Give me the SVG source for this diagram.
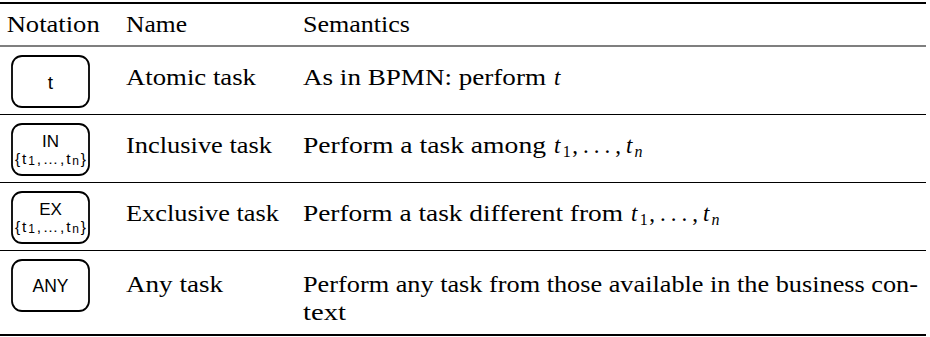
<svg xmlns="http://www.w3.org/2000/svg" width="930" height="337" viewBox="0 0 930 337">
<style>
.tx{font-family:'Liberation Serif',serif;font-size:23px;fill:#000}
.it{font-style:italic}
.sub{font-size:16px}
.box{fill:#fff;stroke:#000;stroke-width:1.8}
.bt{font-family:'Liberation Sans',sans-serif;fill:#000;text-anchor:middle}
.thick{stroke:#000;stroke-width:1.9}
.thin{stroke:#000;stroke-width:1.1}
</style>
<rect width="930" height="337" fill="#fff"/>
<g id="rules">
<line class="thick" x1="0" y1="3" x2="926" y2="3"/>
<line class="thin" x1="0" y1="46" x2="926" y2="46"/>
<line class="thin" x1="0" y1="114.5" x2="926" y2="114.5"/>
<line class="thin" x1="0" y1="182.5" x2="926" y2="182.5"/>
<line class="thin" x1="0" y1="250.5" x2="926" y2="250.5"/>
<line class="thick" x1="0" y1="335" x2="926" y2="335"/>
</g>
<g id="header">
<text class="tx" x="6.7" y="32" textLength="93" lengthAdjust="spacingAndGlyphs">Notation</text>
<text class="tx" x="126" y="32" textLength="61" lengthAdjust="spacingAndGlyphs">Name</text>
<text class="tx" x="303" y="32" textLength="107" lengthAdjust="spacingAndGlyphs">Semantics</text>
</g>
<g id="node-atomic">
<rect class="box" x="12" y="56" width="77" height="51" rx="10"/>
<text class="bt" x="50.5" y="88.5" font-size="19">t</text>
<text class="tx" x="126" y="85" textLength="130" lengthAdjust="spacingAndGlyphs">Atomic task</text>
<text class="tx" x="303" y="85" textLength="243" lengthAdjust="spacingAndGlyphs">As in BPMN: perform</text>
<text class="tx it" x="554" y="85">t</text>
</g>
<g id="node-inclusive">
<rect class="box" x="12" y="124" width="77" height="51" rx="10"/>
<text class="bt" x="50.5" y="147" font-size="17">IN</text>
<text class="bt" x="50.5" y="164" font-size="15.5" textLength="71" lengthAdjust="spacing">{t<tspan font-size="12" dy="1">1</tspan><tspan dy="-1">,…,t</tspan><tspan font-size="12" dy="1">n</tspan><tspan dy="-1">}</tspan></text>
<text class="tx" x="126" y="153" textLength="146" lengthAdjust="spacingAndGlyphs">Inclusive task</text>
<text class="tx" x="303" y="153" textLength="243" lengthAdjust="spacingAndGlyphs">Perform a task among</text>
<g class="tx">
<text class="it" x="554" y="153">t</text>
<text class="sub" x="562.7" y="156.6">1</text>
<text x="572.2" y="153">,</text>
<text x="583" y="153">.</text>
<text x="593.7" y="153">.</text>
<text x="604.5" y="153">.</text>
<text x="615.2" y="153">,</text>
<text class="it" x="625.9" y="153">t</text>
<text class="sub it" x="634.6" y="156.6">n</text>
</g>
</g>
<g id="node-exclusive">
<rect class="box" x="12" y="192" width="77" height="51" rx="10"/>
<text class="bt" x="50.5" y="215" font-size="17">EX</text>
<text class="bt" x="50.5" y="232" font-size="15.5" textLength="71" lengthAdjust="spacing">{t<tspan font-size="12" dy="1">1</tspan><tspan dy="-1">,…,t</tspan><tspan font-size="12" dy="1">n</tspan><tspan dy="-1">}</tspan></text>
<text class="tx" x="126" y="221" textLength="153" lengthAdjust="spacingAndGlyphs">Exclusive task</text>
<text class="tx" x="303" y="221" textLength="320" lengthAdjust="spacingAndGlyphs">Perform a task different from</text>
<g class="tx">
<text class="it" x="631" y="221">t</text>
<text class="sub" x="639.7" y="224.6">1</text>
<text x="649.2" y="221">,</text>
<text x="660" y="221">.</text>
<text x="670.7" y="221">.</text>
<text x="681.5" y="221">.</text>
<text x="692.2" y="221">,</text>
<text class="it" x="702.9" y="221">t</text>
<text class="sub it" x="711.6" y="224.6">n</text>
</g>
</g>
<g id="node-any">
<rect class="box" x="12" y="260" width="77" height="51" rx="10"/>
<text class="bt" x="50.5" y="292" font-size="17.5">ANY</text>
<text class="tx" x="126" y="291.5" textLength="97" lengthAdjust="spacingAndGlyphs">Any task</text>
<text class="tx" x="303" y="291.5" textLength="615" lengthAdjust="spacingAndGlyphs">Perform any task from those available in the business con-</text>
<text class="tx" x="303" y="320" textLength="43" lengthAdjust="spacingAndGlyphs">text</text>
</g>
</svg>
